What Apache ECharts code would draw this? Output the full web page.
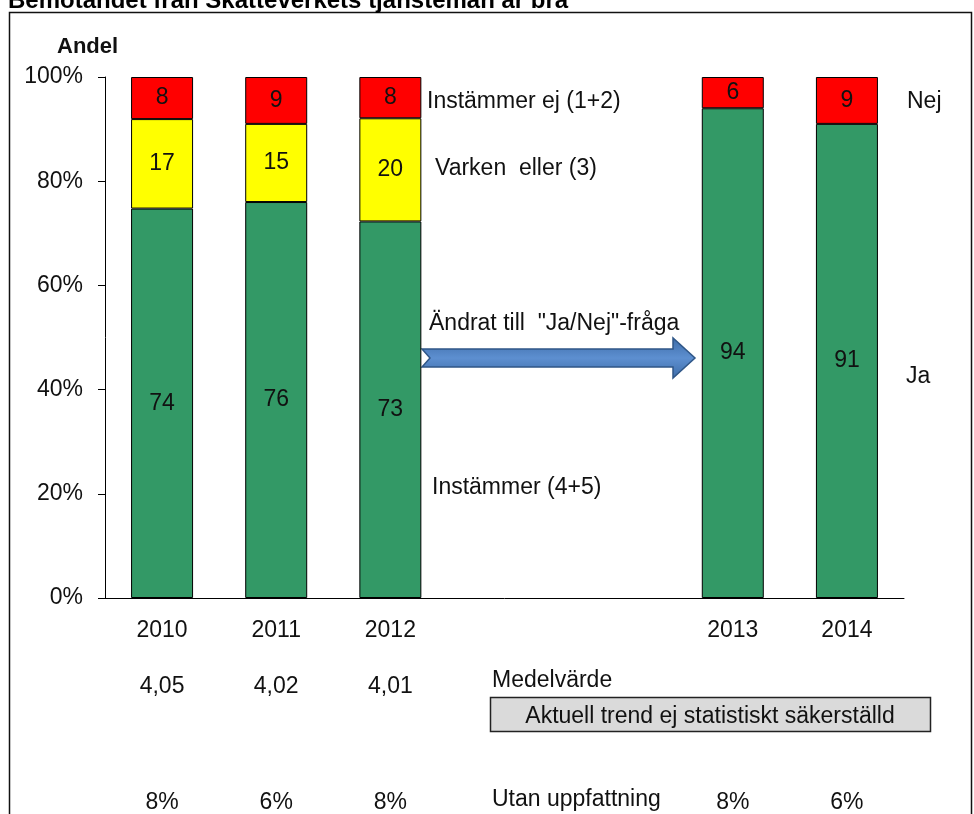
<!DOCTYPE html>
<html>
<head>
<meta charset="utf-8">
<script src="https://cdn.jsdelivr.net/npm/echarts@6/dist/echarts.min.js"></script>
<style>
  html, body { margin: 0; padding: 0; background: #fff; }
  #chart { width: 974px; height: 814px; }
</style>
</head>
<body>
<div id="chart"></div>
<script>
// kategorier, två tomma platser mellan 2012 och 2013
const years = ['2010', '2011', '2012', 'gap1', 'gap2', '2013', '2014']
const instammer = [74, 76, 73, null, null, 94, 91]
const varken = [17, 15, 20, null, null, null, null]
const instammerEj = [8, 9, 8, null, null, 6, 9]
const medelvarde = ['4,05', '4,02', '4,01', '', '', '', '']
const utanUppfattning = [8, 6, 8, null, null, 8, 6]
const yTicks = [0, 20, 40, 60, 80, 100]

const font = "'Liberation Sans', Arial, sans-serif"

// staplarna ritas som andel av summan så att de når 100 %
const totals = years.map((_, i) =>
  [instammer[i], varken[i], instammerEj[i]].reduce((s, v) => s + (v || 0), 0)
)
const share = arr => arr.map((v, i) => (v == null ? '-' : v / totals[i] * 100))

const barLabel = raw => ({
  show: true,
  position: 'inside',
  color: '#111',
  fontSize: 23,
  fontFamily: font,
  formatter: p => (raw[p.dataIndex] == null ? '' : String(raw[p.dataIndex]))
})

const barSeries = (name, raw, color) => ({
  name: name,
  type: 'bar',
  stack: 'andel',
  barWidth: 62,
  data: share(raw),
  itemStyle: { color: color, borderColor: '#000', borderWidth: 1 },
  label: barLabel(raw)
})

const textItem = (x, y, text, extra) => ({
  type: 'text',
  x: x,
  y: y,
  style: Object.assign({
    text: text,
    fill: '#111',
    font: '23px ' + font,
    verticalAlign: 'middle'
  }, extra || {})
})

const myChart = echarts.init(document.getElementById('chart'))

const option = {
  animation: false,
  textStyle: { fontFamily: font },
  grid: { left: 105, right: 70, top: 77, bottom: 216 },
  xAxis: [
    {
      type: 'category',
      data: years,
      axisLine: { lineStyle: { color: '#000', width: 1 } },
      axisTick: { show: false },
      axisLabel: {
        interval: 0,
        margin: 21,
        fontSize: 23,
        color: '#111',
        formatter: v => (v.startsWith('gap') ? '' : v)
      }
    },
    {
      type: 'category',
      data: years,
      position: 'bottom',
      offset: 58,
      axisLine: { show: false },
      axisTick: { show: false },
      axisLabel: {
        interval: 0,
        margin: 19,
        fontSize: 23,
        color: '#111',
        formatter: (v, i) => medelvarde[i]
      }
    },
    {
      type: 'category',
      data: years,
      position: 'bottom',
      offset: 173,
      axisLine: { show: false },
      axisTick: { show: false },
      axisLabel: {
        interval: 0,
        margin: 20,
        fontSize: 23,
        color: '#111',
        formatter: (v, i) => (utanUppfattning[i] == null ? '' : utanUppfattning[i] + '%')
      }
    }
  ],
  yAxis: {
    type: 'value',
    min: yTicks[0],
    max: yTicks[yTicks.length - 1],
    interval: 20,
    axisLine: { show: true, lineStyle: { color: '#000', width: 1 } },
    axisTick: { show: true, length: 7, lineStyle: { color: '#000' } },
    splitLine: { show: false },
    axisLabel: {
      margin: 22,
      fontSize: 23,
      color: '#111',
      formatter: '{value}%'
    }
  },
  series: [
    barSeries('Instämmer (4+5)', instammer, '#339966'),
    barSeries('Varken eller (3)', varken, '#ffff00'),
    barSeries('Instämmer ej (1+2)', instammerEj, '#ff0000')
  ],
  graphic: [
    {
      type: 'rect',
      silent: true,
      shape: { x: 9.5, y: 12.5, width: 962, height: 830 },
      style: { fill: 'none', stroke: '#111', lineWidth: 1.5 }
    },
    {
      type: 'text',
      x: 8,
      y: -11,
      style: {
        text: 'Bemötandet från Skatteverkets tjänstemän är bra',
        fill: '#000',
        font: 'bold 24px ' + font,
        verticalAlign: 'alphabetic'
      }
    },
    textItem(57, 47, 'Andel', { font: 'bold 22px ' + font }),
    textItem(427, 102, 'Instämmer ej (1+2)'),
    textItem(435, 169, 'Varken  eller (3)'),
    textItem(429, 324, 'Ändrat till  "Ja/Nej"-fråga'),
    textItem(432, 488, 'Instämmer (4+5)'),
    textItem(907, 102, 'Nej'),
    textItem(906, 377, 'Ja'),
    {
      type: 'polygon',
      silent: true,
      shape: {
        points: [[422, 349], [673, 349], [673, 338], [695, 358], [673, 378], [673, 367], [422, 367], [430, 358]]
      },
      style: {
        fill: {
          type: 'linear', x: 0, y: 0, x2: 0, y2: 1,
          colorStops: [
            { offset: 0, color: '#3d6ca8' },
            { offset: 0.5, color: '#5d8fd0' },
            { offset: 1, color: '#3d6ca8' }
          ]
        },
        stroke: '#2f5687',
        lineWidth: 1.5
      }
    },
    textItem(492, 681, 'Medelvärde'),
    {
      type: 'rect',
      silent: true,
      shape: { x: 490.5, y: 697.5, width: 440, height: 34 },
      style: { fill: '#dadada', stroke: '#222', lineWidth: 1.5 }
    },
    textItem(710, 717, 'Aktuell trend ej statistiskt säkerställd', { align: 'center' }),
    textItem(492, 800, 'Utan uppfattning')
  ]
}

myChart.setOption(option)
</script>
</body>
</html>
